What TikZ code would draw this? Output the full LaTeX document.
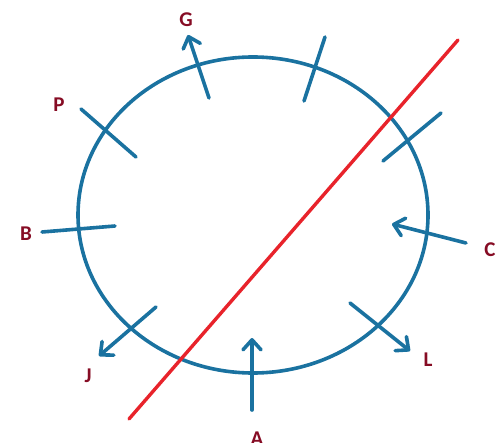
\documentclass[tikz,border=0pt]{standalone}
\usepackage{fontspec}
\setmainfont{Carlito}
\usetikzlibrary{arrows.meta}
\definecolor{ringblue}{HTML}{1A72A0}
\definecolor{cutred}{HTML}{E8232B}
\definecolor{labelred}{HTML}{860C24}

\begin{document}
\begin{tikzpicture}[x=1pt,y=-1pt,>={Straight Barb[length=10pt,width=18pt,round]},
 tick/.style={ringblue,line width=3.6pt,line cap=round},
 lbl/.style={text=labelred,font=\bfseries\fontsize{21}{21}\selectfont,inner sep=0pt}]
\useasboundingbox (0,0) rectangle (502,443);
% ring and cut line
\draw[ringblue,line width=3.6pt] (253,215) ellipse [x radius=175,y radius=158];
\coordinate (cut1) at (129,419);
\coordinate (cut2) at (458,40);
\draw[cutred,line width=3.4pt,line cap=round] (cut1)--(cut2);
% tick ends
\coordinate (g1) at (209,98);  \coordinate (g2) at (188,35);
\coordinate (t1) at (304,101); \coordinate (t2) at (325,37);
\coordinate (r1) at (383,161); \coordinate (r2) at (441,113);
\coordinate (p1) at (81,109);  \coordinate (p2) at (136,157);
\coordinate (b1) at (42,232);  \coordinate (b2) at (115,226);
\coordinate (j1) at (156,307); \coordinate (j2) at (99,356);
\coordinate (a1) at (252,410); \coordinate (a2) at (252,338);
\coordinate (c1) at (466,243); \coordinate (c2) at (392,224);
\coordinate (l1) at (350,303); \coordinate (l2) at (410,351);
\draw[tick,->] (g1)--(g2);
\draw[tick] (t1)--(t2);
\draw[tick] (r1)--(r2);
\draw[tick] (p1)--(p2);
\draw[tick] (b1)--(b2);
\draw[tick,->] (j1)--(j2);
\draw[tick,->] (a1)--(a2);
\draw[tick,->] (c1)--(c2);
\draw[tick,->] (l1)--(l2);
% labels
\node[lbl] (G) at (186,20) {G};
\node[lbl] (P) at (59,105) {P};
\node[lbl] (B) at (26,234) {B};
\node[lbl] (C) at (490,250) {C};
\node[lbl] (J) at (88,376) {J};
\node[lbl] (L) at (428,360) {L};
\node[lbl] (A) at (257,439) {A};
\end{tikzpicture}
\end{document}
